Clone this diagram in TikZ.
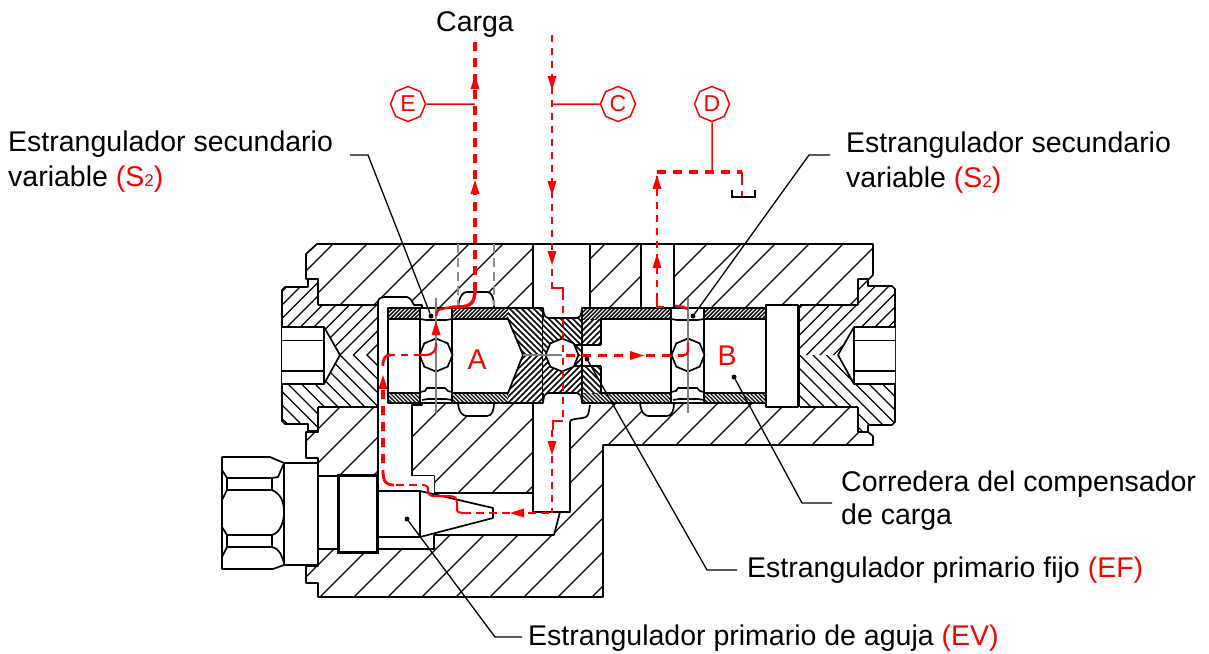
\documentclass[tikz,border=0pt]{standalone}
\usepackage{fontspec}
\setmainfont{Liberation Sans}
\usetikzlibrary{shapes.geometric}
\newcommand{\hU}[5]{\begin{scope}\clip #1;\foreach \c in {#2,#3,...,#4}{\draw[#5] (\c,0) -- ({\c-800},800);}\end{scope}}
\newcommand{\hD}[5]{\begin{scope}\clip #1;\foreach \c in {#2,#3,...,#4}{\draw[#5] (\c,0) -- ({\c+800},800);}\end{scope}}
\newcommand{\arU}[2]{\fill[red] (#1,#2) -- (#1+4.5,#2+14) -- (#1-4.5,#2+14) -- cycle;}
\newcommand{\arD}[2]{\fill[red] (#1,#2) -- (#1+4.5,#2-14) -- (#1-4.5,#2-14) -- cycle;}
\newcommand{\arL}[2]{\fill[red] (#1,#2) -- (#1+14,#2-4.5) -- (#1+14,#2+4.5) -- cycle;}
\newcommand{\arR}[2]{\fill[red] (#1,#2) -- (#1-14,#2-4.5) -- (#1-14,#2+4.5) -- cycle;}
\tikzset{
 x=1pt,y=-1pt,
 ol/.style={black,line width=1.7pt,line join=round},
 thk/.style={black,line width=2.8pt},
 hb/.style={black,line width=1.3pt},
 hp/.style={black,line width=1.1pt},
 hs/.style={black,line width=1.7pt},
 hst/.style={black,line width=1.4pt},
 wh/.style={fill=white,draw=none},
 rthick/.style={red,line width=3.6pt,dash pattern=on 9pt off 7pt},
 rmed/.style={red,line width=2.3pt,dash pattern=on 8pt off 5pt},
 rthin/.style={red,line width=1.6pt,dash pattern=on 7pt off 6pt},
 rsolid/.style={red,line width=1.5pt},
 gr/.style={black!50,line width=1.4pt},
 grd/.style={black!45,line width=1.4pt,dash pattern=on 9pt off 5pt},
 txt/.style={anchor=base west,inner sep=0pt,font=\fontsize{28.5}{33}\selectfont},
 tag/.style={regular polygon,regular polygon sides=8,shape border rotate=22.5,draw=red,line width=1.5pt,minimum size=35pt,inner sep=0pt,text=red,font=\fontsize{23}{23}\selectfont},
 oct/.style={regular polygon,regular polygon sides=8,shape border rotate=22.5,draw=black,fill=white,line width=1.7pt,minimum size=33pt,inner sep=0pt},
 dotn/.style={circle,fill=black,inner sep=0pt,minimum size=5pt},
 leader/.style={black,line width=1.3pt},
 rl/.style={text=red,inner sep=0pt,font=\fontsize{28.5}{28.5}\selectfont},
}
\begin{document}
\begin{tikzpicture}
\useasboundingbox (0,0) rectangle (1209,653);
% body
\def\bodypath{(306,254) -- (317,244) -- (873,244) -- (873,275) -- (868,280) -- (868,432) -- (873,436) -- (873,445) -- (603,445) -- (603,597) -- (318,597) -- (318,583) -- (306,583) -- (306,566) -- (318,566) -- (318,458) -- (306,458) -- (306,432) -- (318,432) -- (318,279) -- (306,279) -- cycle}
\hU{\bodypath}{543}{577}{1300}{hb}
\draw[ol] \bodypath;
% left plug
\def\lpU{(378,305) -- (318,305) -- (318,279) -- (308,279) -- (308,287) -- (285,287) -- (282,290) -- (282,355) -- (378,355) -- cycle}
\def\lpD{(378,407) -- (318,407) -- (318,431) -- (308,431) -- (308,424) -- (285,424) -- (282,421) -- (282,355) -- (378,355) -- cycle}
\fill[white] \lpU; \fill[white] \lpD;
\hU{\lpU}{533}{546.5}{740}{hp}
\hD{\lpD}{-150}{-136.5}{110}{hp}
\draw[ol] (318,305) -- (318,279) -- (308,279) -- (308,287) -- (285,287) -- (282,290) -- (282,421) -- (285,424) -- (308,424) -- (308,431) -- (318,431) -- (318,407);
\draw[thk] (318,305) -- (378,305); \draw[thk] (318,407) -- (378,407);
\fill[white] (282,327) -- (324,327) -- (340,355) -- (324,384) -- (282,384) -- cycle;
\draw[ol] (282,327) -- (324,327) -- (340,355) -- (324,384) -- (282,384);
\draw[ol] (282,340.5) -- (324,340.5); \draw[ol] (282,371) -- (324,371); \draw[ol] (324,327) -- (324,384);
% right plug
\def\rpU{(800,305) -- (858,305) -- (858,279) -- (868,279) -- (868,286) -- (892,286) -- (895,289) -- (895,355) -- (800,355) -- cycle}
\def\rpD{(800,407) -- (858,407) -- (858,432) -- (868,432) -- (868,425) -- (892,425) -- (895,422) -- (895,355) -- (800,355) -- cycle}
\fill[white] \rpU; \fill[white] \rpD;
\hU{\rpU}{1067}{1080.5}{1260}{hp}
\hD{\rpD}{350}{363.5}{600}{hp}
\draw[ol] (858,305) -- (858,279) -- (868,279) -- (868,286) -- (892,286) -- (895,289) -- (895,422) -- (892,425) -- (868,425) -- (868,432) -- (858,432) -- (858,407);
\draw[thk] (800,305) -- (858,305); \draw[thk] (800,407) -- (858,407);
\fill[white] (895,327) -- (854,327) -- (838,355) -- (854,384) -- (895,384) -- cycle;
\draw[ol] (895,327) -- (854,327) -- (838,355) -- (854,384) -- (895,384);
\draw[ol] (854,340.5) -- (895,340.5); \draw[ol] (854,371) -- (895,371); \draw[ol] (854,327) -- (854,384);
% passages
\fill[wh] (533,244) rectangle (590,318);
\draw[ol] (533,244) -- (533,308); \draw[ol] (590,244) -- (590,308);
\fill[wh] (641,244) rectangle (674,308);
\draw[ol] (641,244) -- (641,308); \draw[ol] (674,244) -- (674,308);
\draw[ol] (317,244) -- (873,244);
% left channel
\fill[wh] (378,305) -- (378,302) .. controls (379,298) .. (385,297) -- (407,297) .. controls (411,298) and (412,302) .. (414,305) -- (420,308) -- (420,403) -- (412,405) -- (412,476) -- (434,476) -- (434,492) -- (378,492) -- cycle;
\draw[ol] (378,491) -- (378,302) .. controls (379,298) .. (385,297) -- (407,297) .. controls (411,298) and (412,302) .. (414,305) -- (422,305) -- (422,308);
\draw[ol] (422,403) -- (422,405) -- (412,405) -- (412,476) -- (434,476) -- (434,493);
% needle bore
\fill[wh] (318,476) -- (434,476) -- (434,493) -- (533,493) -- (533,512) -- (560,512) -- (554,535) -- (434,535) -- (434,549) -- (318,549) -- cycle;
\draw[ol] (318,476) -- (378,476);
\draw[ol] (434,493) -- (533,493);
\draw[ol] (560,512) -- (554,535) -- (434,535) -- (434,549) -- (318,549);
% lower channel
\fill[wh] (533,393) -- (582,393) -- (590,403) -- (586,413) -- (575,418) -- (570,425) -- (570,512) -- (533,512) -- cycle;
\draw[ol] (533,403) -- (533,512) -- (570,512) -- (570,425) .. controls (570,420) .. (575,419) -- (582,418) .. controls (588,417) .. (590,405);
% grooves
\foreach \a/\b in {458/494}{
 \fill[wh] (\a,308) .. controls (\a+1,296) and (\a+5,292) .. (\a+9,292) -- (\b-7,292) .. controls (\b-2,292) and (\b,298) .. (\b,308) -- cycle;
 \draw[ol] (\a,308) .. controls (\a+1,296) and (\a+5,292) .. (\a+9,292) -- (\b-7,292) .. controls (\b-2,292) and (\b,298) .. (\b,308);
}
\foreach \a/\b in {458/494,640/674}{
 \fill[wh] (\a,403) .. controls (\a+1,413) and (\a+5,416) .. (\a+9,416) -- (\b-7,416) .. controls (\b-2,416) and (\b,410) .. (\b,403) -- cycle;
 \draw[ol] (\a,403) .. controls (\a+1,413) and (\a+5,416) .. (\a+9,416) -- (\b-7,416) .. controls (\b-2,416) and (\b,410) .. (\b,403);
}
% spool left
\fill[white] (388,308) rectangle (543,403);
\hU{(388,309) rectangle (420,319)}{697}{701}{745}{hst}
\hU{(452,309) rectangle (508,319)}{761}{765}{830}{hst}
\hD{(388,393) rectangle (420,403)}{-15}{-11}{30}{hst}
\hD{(452,393) rectangle (508,403)}{49}{53}{118}{hst}
\hD{(508,309) -- (543,309) -- (543,355) -- (523,355) -- (508,319) -- cycle}{153}{159}{238}{hs}
\hU{(508,403) -- (543,403) -- (543,355) -- (523,355) -- (508,393) -- cycle}{863}{869}{950}{hs}
\draw[ol] (388,308) -- (543,308) -- (543,403) -- (388,403) -- cycle;
\draw[ol] (388,319) -- (420,319); \draw[ol] (388,393) -- (420,393);
\draw[ol] (452,319) -- (508,319) -- (523,355) -- (508,393) -- (452,393);
\draw[ol] (420,308) -- (420,403); \draw[ol] (452,308) -- (452,403);
\draw[ol] (420,319) -- (426,320) -- (446,320) -- (452,319);
\draw[ol] (420,392) -- (425,391) -- (427,388) -- (445,388) -- (448,391) -- (452,392);
\draw[ol] (422,400) -- (428,399) -- (446,399) -- (452,400);
% center piece
\fill[white] (543,318) rectangle (582,393);
\hD{(543,318) rectangle (582,355)}{188}{194}{266}{hs}
\hU{(543,355) rectangle (582,393)}{898}{904}{978}{hs}
\draw[ol] (543,308) .. controls (544,316) .. (548,318) -- (577,318) .. controls (581,316) .. (582,308);
\draw[ol] (543,403) .. controls (544,395) .. (548,393) -- (577,393) .. controls (581,395) .. (582,403);
% spool right
\fill[white] (582,308) rectangle (766,403);
\hU{(582,309) rectangle (671,319)}{891}{895}{995}{hst}
\hU{(704,309) rectangle (765,319)}{1013}{1017}{1088}{hst}
\hD{(582,393) rectangle (671,403)}{179}{183}{280}{hst}
\hD{(704,393) rectangle (765,403)}{301}{305}{375}{hst}
\hU{(582,319) rectangle (601,345)}{901}{907}{950}{hs}
\hD{(582,366) rectangle (601,393)}{189}{195}{238}{hs}
\draw[ol] (582,308) -- (766,308) -- (766,403) -- (582,403) -- cycle;
\draw[ol] (582,308) -- (582,403);
\draw[ol] (601,319) -- (671,319); \draw[ol] (601,393) -- (671,393);
\draw[ol] (704,319) -- (765,319); \draw[ol] (704,393) -- (765,393);
\draw[ol] (601,319) -- (601,345); \draw[ol] (601,366) -- (601,393);
\draw[ol] (572,345) -- (601,345); \draw[ol] (572,366) -- (601,366);
\draw[ol] (671,308) -- (671,403); \draw[ol] (704,308) -- (704,403);
\draw[ol] (671,319) -- (677,320) -- (698,320) -- (704,319);
\draw[ol] (671,392) -- (676,391) -- (678,388) -- (697,388) -- (700,391) -- (704,392);
\draw[ol] (673,400) -- (679,399) -- (698,399) -- (704,400);
% slider
\fill[white] (766,305) rectangle (798,407);
\draw[ol] (766,305) rectangle (798,407);
\draw[thk] (799,305) -- (799,407);
% octagons
\node[oct] (octa) at (436,355) {};
\node[oct] (octb) at (562,355) {};
\node[oct] (octc) at (688,355) {};
% needle
\draw[ol,fill=white] (378,491) -- (420,491) -- (493,508) -- (493,518) -- (420,537) -- (378,537) -- cycle;
\draw[ol] (420,491) -- (420,537);
\draw[ol,fill=white] (338,476) rectangle (378,552);
\draw[black,line width=3pt] (338,475) rectangle (377,552);
% nut
\draw[ol,fill=white] (284,463) rectangle (318,565);
\draw[ol,fill=white] (222,457) -- (270,457) -- (284,463) -- (284,565) -- (273,569) -- (222,569) -- cycle;
\draw[ol] (222,470) -- (227,478) -- (272,478) -- (278,477) -- (284,463);
\draw[ol] (227,478) -- (227,490); \draw[ol] (272,478) -- (272,490);
\draw[ol] (227,490) -- (272,490);
\draw[ol] (227,490) -- (222,500); \draw[ol] (222,527) -- (227,535);
\draw[ol] (272,490) .. controls (281,494) and (284,502) .. (284,512) .. controls (284,522) and (280,533) .. (272,535);
\draw[ol] (227,535) -- (272,535);
\draw[ol] (227,535) -- (227,547); \draw[ol] (272,535) -- (272,547);
\draw[ol] (227,547) -- (272,547);
\draw[ol] (227,547) -- (222,557);
\draw[ol] (272,547) .. controls (280,549) and (282,556) .. (284,563);
% gray
\draw[grd] (458,244) -- (458,306); \draw[grd] (494,244) -- (494,306);
\draw[gr] (436,298) -- (436,413); \draw[gr] (688,298) -- (688,413);
\draw[gr] (523,355) -- (562,355);
% tank
\draw[black,line width=1.3pt] (732,190) -- (732,197) -- (755,197) -- (755,190);
% red flows
\draw[rthick] (475,42) -- (475,290);
\draw[red,line width=3.4pt] (475,290) .. controls (475,303) and (470,307) .. (458,307) -- (452,307);
\draw[red,line width=2.2pt] (452,307) -- (446,308) -- (438,310) -- (436,316);
\draw[red,line width=2.2pt] (436,343) .. controls (436,351) and (434,354) .. (426,355) -- (421,355);
\draw[rthin] (421,355) -- (391,355);
\draw[red,line width=2.8pt] (391,355) .. controls (385,355) and (383,358) .. (383,366);
\draw[rthick] (383,390) -- (383,470);
\draw[red,line width=2.8pt] (383,470) .. controls (383,482) and (386,485) .. (394,485);
\draw[rmed] (396,485) -- (423,485);
\draw[red,line width=2pt] (423,485) .. controls (428,486) .. (428,491) .. controls (430,496) .. (436,496) -- (450,496) .. controls (456,497) .. (457,503) -- (457,508) .. controls (457,512) .. (463,513);
\draw[rmed] (463,513) -- (553,513);
\draw[rthin] (552,35) -- (552,283);
\draw[red,line width=1.6pt] (552,283) -- (552,288) -- (563,288) -- (563,293);
\draw[rthin] (563,293) -- (563,421);
\draw[red,line width=1.6pt] (563,421) -- (553,421) -- (553,430);
\draw[rthin] (552,430) -- (552,513);
\draw[rthick] (566,355.5) -- (684,355.5);
\draw[red,line width=2.2pt] (684,355) .. controls (687,355) .. (688,350) -- (688,343);
\draw[red,line width=2.8pt] (688,309) -- (683,307) -- (675,306);
\draw[red,line width=2pt] (664,307) -- (657,307) -- (657,300);
\draw[rthin] (657,300) -- (657,172);
\draw[rthick] (657,172) -- (742,172);
\draw[red,line width=1.6pt] (742,172) -- (742,178);
\draw[rthin] (742,178) -- (742,196);
\arU{475}{75} \arU{475}{180}
\arD{552}{90} \arD{552}{195}
\arD{552}{265}
\arD{552}{455}
\arU{657}{175} \arU{657}{254}
\arU{436}{321} \arU{383}{375}
\arL{510}{513}
\arR{644}{355.5}
% tags
\node[tag] (E) at (408,104) {E};
\node[tag] (C) at (618,104) {C};
\node[tag] (D) at (712,104) {D};
\coordinate (Ej) at (475,104); \coordinate (Cj) at (552,104); \coordinate (Dj) at (712,172);
\draw[rsolid] (E) -- (Ej); \draw[rsolid] (C) -- (Cj); \draw[rsolid] (D) -- (Dj);
\node[rl] (lblA) at (477,360) {A};
\node[rl] (lblB) at (727,356) {B};
% texts
\node[txt] (carga) at (436,31) {Carga};
\node[txt] (t1) at (8,151) {Estrangulador secundario};
\node[txt] (t2) at (8,186) {variable {\color{red}(S{\fontsize{17}{17}\selectfont 2})}};
\node[txt] (t3) at (846,152) {Estrangulador secundario};
\node[txt] (t4) at (846,187) {variable {\color{red}(S{\fontsize{17}{17}\selectfont 2})}};
\node[txt] (t5) at (841,491) {Corredera del compensador};
\node[txt] (t6) at (841,524) {de carga};
\node[txt] (t7) at (747,577) {Estrangulador primario fijo {\color{red}(EF)}};
\node[txt] (t8) at (528,645) {Estrangulador primario de aguja {\color{red}(EV)}};
% leaders
\node[dotn] (d1) at (431,316) {}; \coordinate (k1a) at (350,155); \coordinate (k1) at (368,155);
\draw[leader] (k1a) -- (k1) -- (d1);
\node[dotn] (d2) at (693,316) {}; \coordinate (k2a) at (830,155); \coordinate (k2) at (809,155);
\draw[leader] (k2a) -- (k2) -- (d2);
\node[dotn] (d3) at (734,377) {}; \coordinate (k3a) at (832,503); \coordinate (k3) at (802,503);
\draw[leader] (d3) -- (k3) -- (k3a);
\node[dotn] (d4) at (587,359) {}; \coordinate (k4a) at (737,570); \coordinate (k4) at (707,570);
\draw[leader] (d4) -- (k4) -- (k4a);
\node[dotn] (d5) at (407,519) {}; \coordinate (k5a) at (522,637); \coordinate (k5) at (495,637);
\draw[leader] (d5) -- (k5) -- (k5a);
\end{tikzpicture}
\end{document}
